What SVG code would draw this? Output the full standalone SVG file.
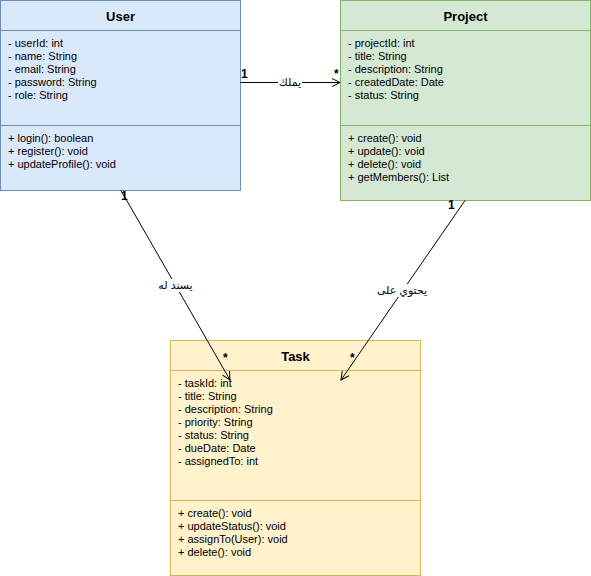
<svg xmlns="http://www.w3.org/2000/svg" width="591" height="576" viewBox="0 0 591 576">
<style>
.t{font-family:"Liberation Sans",Arial,sans-serif;font-size:11px;fill:#000}
.h{font-family:"Liberation Sans",Arial,sans-serif;font-size:13px;font-weight:bold;fill:#000;text-anchor:middle}
.m{font-family:"Liberation Sans",Arial,sans-serif;font-size:12px;font-weight:bold;fill:#000}
.lbl{font-family:"Liberation Sans","DejaVu Sans","Noto Sans",sans-serif;font-size:11px;fill:#000;text-anchor:middle}
.edge{stroke:#000;stroke-width:1;fill:none}
.user{fill:#dae8fc;stroke:#6c8ebf}
.proj{fill:#d5e8d4;stroke:#82b366}
.task{fill:#fff2cc;stroke:#d6b656}
</style>
<defs>
<marker id="open" markerWidth="12" markerHeight="12" refX="10" refY="6" orient="auto" markerUnits="userSpaceOnUse">
<path d="M2,2 L10,6 L2,10" fill="none" stroke="#000" stroke-width="1"/>
</marker>
</defs>
<rect width="591" height="576" fill="#fff"/>
<g id="user">
<rect class="user" x="0.5" y="0.5" width="240" height="190"/>
<line class="user" x1="0.5" y1="30.5" x2="240.5" y2="30.5"/>
<line class="user" x1="0.5" y1="125.5" x2="240.5" y2="125.5"/>
<text class="h" x="120.5" y="21">User</text>
<text class="t" x="8" y="47">- userId: int</text>
<text class="t" x="8" y="60">- name: String</text>
<text class="t" x="8" y="73">- email: String</text>
<text class="t" x="8" y="86">- password: String</text>
<text class="t" x="8" y="99">- role: String</text>
<text class="t" x="8" y="142">+ login(): boolean</text>
<text class="t" x="8" y="155">+ register(): void</text>
<text class="t" x="8" y="168">+ updateProfile(): void</text>
</g>
<g id="project">
<rect class="proj" x="340.5" y="0.5" width="250" height="200"/>
<line class="proj" x1="340.5" y1="30.5" x2="590.5" y2="30.5"/>
<line class="proj" x1="340.5" y1="125.5" x2="590.5" y2="125.5"/>
<text class="h" x="465.5" y="21">Project</text>
<text class="t" x="348" y="47">- projectId: int</text>
<text class="t" x="348" y="60">- title: String</text>
<text class="t" x="348" y="73">- description: String</text>
<text class="t" x="348" y="86">- createdDate: Date</text>
<text class="t" x="348" y="99">- status: String</text>
<text class="t" x="348" y="142">+ create(): void</text>
<text class="t" x="348" y="155">+ update(): void</text>
<text class="t" x="348" y="168">+ delete(): void</text>
<text class="t" x="348" y="181">+ getMembers(): List</text>
</g>
<g id="task">
<rect class="task" x="170.5" y="340.5" width="250" height="235"/>
<line class="task" x1="170.5" y1="370.5" x2="420.5" y2="370.5"/>
<line class="task" x1="170.5" y1="500.5" x2="420.5" y2="500.5"/>
<text class="h" x="295.5" y="361">Task</text>
<text class="t" x="178" y="387">- taskId: int</text>
<text class="t" x="178" y="400">- title: String</text>
<text class="t" x="178" y="413">- description: String</text>
<text class="t" x="178" y="426">- priority: String</text>
<text class="t" x="178" y="439">- status: String</text>
<text class="t" x="178" y="452">- dueDate: Date</text>
<text class="t" x="178" y="465">- assignedTo: int</text>
<text class="t" x="178" y="517">+ create(): void</text>
<text class="t" x="178" y="530">+ updateStatus(): void</text>
<text class="t" x="178" y="543">+ assignTo(User): void</text>
<text class="t" x="178" y="556">+ delete(): void</text>
</g>
<g id="connectors">
<line class="edge" x1="240.5" y1="82.5" x2="340" y2="82.5" marker-end="url(#open)"/>
<rect x="278" y="76" width="24" height="13" fill="#fff"/>
<text class="lbl" x="290" y="86">يملك</text>
<text class="m" x="241" y="78">1</text>
<text class="m" x="334" y="78">*</text>

<line class="edge" x1="121" y1="190.5" x2="230" y2="380" marker-end="url(#open)"/>
<rect x="157" y="279" width="37" height="13" fill="#fff"/>
<text class="lbl" x="175.5" y="289">يسند له</text>
<text class="m" x="121" y="200">1</text>
<text class="m" x="223" y="362">*</text>

<line class="edge" x1="465" y1="200.5" x2="341" y2="380" marker-end="url(#open)"/>
<rect x="377" y="284" width="50" height="13" fill="#fff"/>
<text class="lbl" x="402" y="294">يحتوي على</text>
<text class="m" x="448" y="209">1</text>
<text class="m" x="350" y="362">*</text>
</g>
</svg>
